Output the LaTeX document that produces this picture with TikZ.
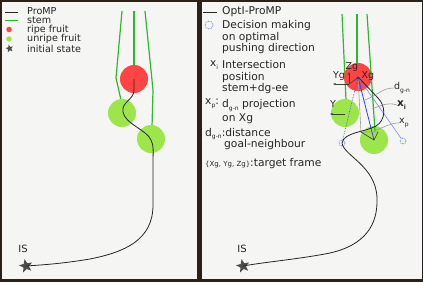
\documentclass[tikz,border=0pt]{standalone}
\usepackage{fontspec}
\setmainfont{DejaVu Sans}
\usetikzlibrary{shapes.geometric,arrows.meta}

\definecolor{framebg}{HTML}{2B2118}
\definecolor{panelbg}{HTML}{F5F5F4}
\definecolor{ripe}{HTML}{FF4444}
\definecolor{unripe}{HTML}{9DE64A}
\definecolor{stemgreen}{HTML}{2EB82E}
\definecolor{stargray}{HTML}{4D4D4D}
\definecolor{pushblue}{HTML}{3040F0}

\newcommand{\lowsub}[1]{\raisebox{-0.45ex}{\fontsize{6}{6}\selectfont #1}}

\begin{document}
\begin{tikzpicture}[
        x=1pt, y=-1pt,
        font=\fontsize{10.7}{11.5}\selectfont,
        fruit/.style      ={circle, minimum size=28pt, inner sep=0pt},
        ripefruit/.style  ={fruit, fill=ripe},
        unripefruit/.style={fruit, fill=unripe},
        stemline/.style   ={stemgreen, line width=1.2pt},
        promp/.style      ={black!85, line width=0.8pt},
        initstar/.style   ={star, star points=5, star point ratio=2.3, fill=stargray,
                            minimum size=14pt, inner sep=0pt, rotate=12},
        legtext/.style    ={anchor=west, inner sep=0pt, text=black!85},
        smalllegend/.style={legtext, font=\fontsize{9.6}{10}\selectfont},
        legblock/.style   ={anchor=north west, inner sep=0pt, align=left, text=black!85},
        dirpt/.style      ={circle, draw=pushblue, densely dotted, minimum size=6pt,
                            inner sep=0pt, line width=0.6pt},
        framearr/.style   ={-{Stealth[length=3pt]}, black!75, line width=0.6pt},
        callout/.style    ={black!40, line width=0.6pt},
        lbl/.style        ={inner sep=0pt, text=black!85, font=\fontsize{9.5}{10}\selectfont},
    ]
    \useasboundingbox (0,0) rectangle (423,282);

    %% Panels
    \fill[framebg] (0,0) rectangle (423,282);
    \fill[panelbg] (1.5,1.5) rectangle (197,278.5);
    \fill[panelbg] (201.5,1.5) rectangle (421.5,278.5);

    %% Left panel -- legend
    \coordinate (lgA) at (5,12);
    \coordinate (lgB) at (18,12);
    \coordinate (lgC) at (5,20.5);
    \coordinate (lgD) at (18,20.5);
    \draw[black!85, line width=0.8pt] (lgA) -- (lgB);
    \draw[stemline] (lgC) -- (lgD);
    \node[circle, fill=ripe, minimum size=5.5pt, inner sep=0pt]   (lgripe)   at (9,29.5) {};
    \node[circle, fill=unripe, minimum size=5.5pt, inner sep=0pt] (lgunripe) at (9,39) {};
    \node[initstar, minimum size=8pt] (lgstar) at (9.5,48.5) {};
    \node[smalllegend] (tpromp)  at (27,11.5) {ProMP};
    \node[smalllegend] (tstem)   at (27,20.5) {stem};
    \node[smalllegend] (tripe)   at (27,29.5) {ripe fruit};
    \node[smalllegend] (tunripe) at (27,39)   {unripe fruit};
    \node[smalllegend] (tinit)   at (27,48.5) {initial state};

    %% Left panel -- stems and fruits
    \coordinate (stLa) at (122,11);
    \coordinate (stLb) at (134,11);
    \coordinate (stLc) at (145,11);
    \draw[stemline] (stLa) -- (116,78) -- (121,100);
    \draw[stemline] (stLb) -- (134,66);
    \draw[stemline] (stLc) -- (153,90) -- (152,127);
    \node[ripefruit]   (ripeL)    at (134,79)  {};
    \node[unripefruit] (unripeLa) at (122,113) {};
    \node[unripefruit] (unripeLb) at (151,139) {};

    %% Left panel -- ProMP
    \node[initstar] (starL) at (26,266) {};
    \node[lbl, font=\fontsize{10}{10}\selectfont] (isL) at (23,249) {IS};
    \draw[promp] (ripeL.center) -- (134,90)
        .. controls (134,100) and (121,102) .. (123,112)
        .. controls (125,124) and (147,130) .. (151,140)
        .. controls (154,146) and (153,150) .. (153,165) -- (153,205)
        .. controls (153,240) and (125,252) .. (90,259)
        .. controls (60,264) and (40,265) .. (starL.center);

    %% Right panel -- legend
    \coordinate (lgE) at (203,12);
    \coordinate (lgF) at (217,12);
    \draw[black!85, line width=0.8pt] (lgE) -- (lgF);
    \node[legtext] (topti) at (222,12) {OptI-ProMP};
    \node[dirpt, minimum size=8pt] (lgdir) at (209,25) {};
    \node[legblock] (tdecide) at (222,20.5) {Decision making\\on optimal\\pushing direction};
    \node[lbl, font=\fontsize{10.5}{11}\selectfont] (lgxi) at (214,65) {x\lowsub{i}};
    \node[legblock] (tinter) at (222,60.5) {Intersection\\position\\stem+dg-ee};
    \node[legtext] (lgxp) at (205,104) {x\lowsub{p}:};
    \node[legblock] (tproj) at (222,99.5) {d\lowsub{g-n} projection\\[1pt]on Xg};
    \node[legtext] (tdist) at (205,134) {d\lowsub{g-n}:distance};
    \node[legtext] (tgoal) at (224,145) {goal-neighbour};
    \node[legtext] (tframe) at (205,164) {{\fontsize{7}{7}\selectfont\{Xg, Yg, Zg\}}:target frame};

    %% Right panel -- stems and fruits
    \coordinate (stRa) at (342,14);
    \coordinate (stRb) at (357,14);
    \coordinate (stRc) at (367,14);
    \draw[stemline] (stRa) -- (346,100);
    \draw[stemline] (stRb) -- (357,64);
    \node[ripefruit]   (ripeR)    at (358,77)  {};
    \node[unripefruit] (unripeRa) at (345,113) {};
    \node[unripefruit] (unripeRb) at (374,140) {};
    \draw[stemline] (stRc) -- (375,131);

    %% Right panel -- pushing directions
    \node[dirpt] (dirL) at (342,143) {};
    \node[dirpt] (dirR) at (403,141) {};
    \draw[pushblue, densely dotted, line width=0.6pt] (ripeR.center) -- (dirL);
    \draw[pushblue!70, line width=0.5pt] (ripeR.center) -- (dirR);
    \draw[pushblue, line width=0.8pt] (ripeR.center) -- (unripeRb.center);

    %% Right panel -- projection
    \coordinate (projA) at (361,132);
    \coordinate (projB) at (378,132);
    \draw[callout] (ripeR.center) -- (projA) -- (projB);
    \draw[black!80, line width=0.6pt] (projA) -- (unripeRb.center) -- (projB);

    %% Right panel -- target frame
    \coordinate (tgO) at (349,84);
    \draw[framearr] (tgO) -- (349,72);
    \draw[framearr] (tgO) -- (333,84);
    \draw[framearr] (tgO) -- (359,77);
    \draw[framearr] (345,114) -- (330,114);
    \node[lbl] (lzg) at (352,67) {Zg};
    \node[lbl] (lxg) at (368,76) {Xg};
    \node[lbl] (lyg) at (339,76) {Yg};
    \node[lbl] (ly)  at (333,104) {Y};

    %% Right panel -- Opti-ProMP
    \node[initstar] (starR) at (243,266) {};
    \node[lbl, font=\fontsize{10}{10}\selectfont] (isR) at (242,249) {IS};
    \draw[promp] (ripeR.center) -- (378,98)
        .. controls (386,106) and (386,120) .. (376,126)
        .. controls (366,132) and (344,132) .. (342,143)
        .. controls (344,156) and (376,166) .. (377,198)
        .. controls (378,225) and (365,245) .. (330,253)
        .. controls (300,259) and (265,262) .. (starR.center);

    %% Right panel -- callouts
    \node[lbl, anchor=west] (ldgn) at (394,88) {d\lowsub{g-n}};
    \node[lbl, anchor=west, font=\fontsize{10.5}{11}\bfseries] (lxi) at (397,105) {x\lowsub{i}};
    \node[lbl, anchor=west] (lxp) at (399,123) {x\lowsub{p}};
    \draw[callout] (ldgn.west) .. controls (382,88) and (378,95) .. (365,100);
    \draw[callout] (lxi.west) .. controls (388,102) and (382,105) .. (372,109);
    \draw[callout] (lxp.west) .. controls (390,123) and (385,127) .. (376,130);
\end{tikzpicture}
\end{document}
